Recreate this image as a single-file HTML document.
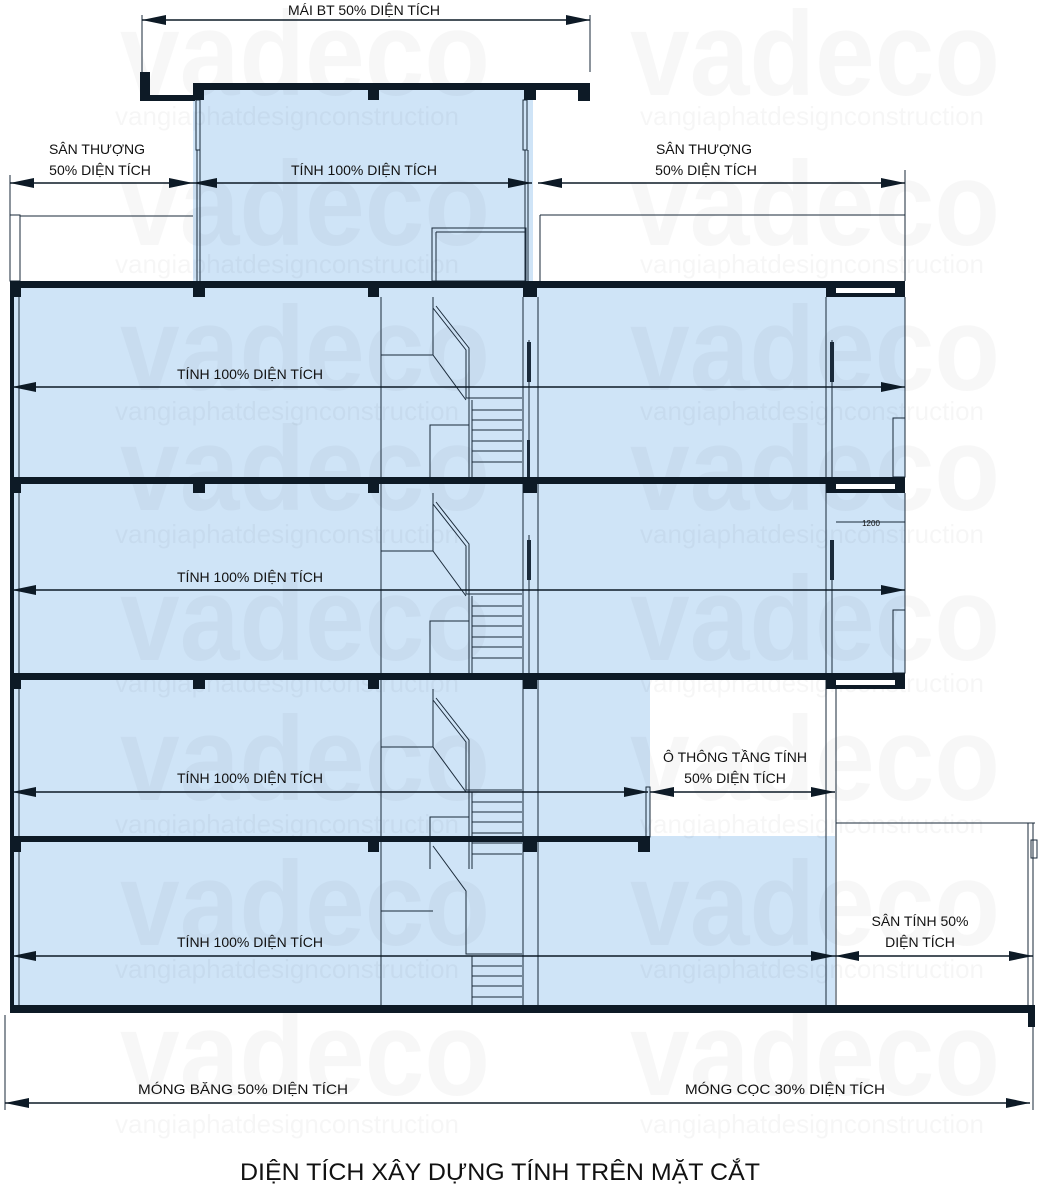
<!DOCTYPE html>
<html><head><meta charset="utf-8"><style>
html,body{margin:0;padding:0;background:#fff;}
svg{display:block;}
text{font-family:"Liberation Sans",sans-serif;fill:#111;}
.wm{font-size:120px;font-weight:bold;fill:#000;fill-opacity:0.03;}
.wm2{font-size:26px;fill:#000;fill-opacity:0.035;}
.l{font-size:14px;}
</style></head><body>
<svg width="1040" height="1200" viewBox="0 0 1040 1200" xmlns="http://www.w3.org/2000/svg">
<defs>
<marker id="a" viewBox="0 0 24 10" refX="24" refY="5" markerWidth="24" markerHeight="10" markerUnits="userSpaceOnUse" orient="auto-start-reverse"><path d="M0,0 L24,5 L0,10 z" fill="#0d1a26"/></marker>
</defs>
<g fill="#cfe4f7">
<rect x="193" y="90" width="340" height="195"/>
<rect x="12" y="288" width="893" height="385"/>
<rect x="12" y="680" width="638" height="160"/>
<rect x="12" y="836" width="823" height="172"/>
</g>
<g>
<text class="wm" x="120" y="95" textLength="370" lengthAdjust="spacingAndGlyphs">vadeco</text><text class="wm" x="630" y="95" textLength="370" lengthAdjust="spacingAndGlyphs">vadeco</text>
<text class="wm2" x="115" y="125">vangiaphatdesignconstruction</text><text class="wm2" x="640" y="125">vangiaphatdesignconstruction</text>
<text class="wm" x="120" y="245" textLength="370" lengthAdjust="spacingAndGlyphs">vadeco</text><text class="wm" x="630" y="245" textLength="370" lengthAdjust="spacingAndGlyphs">vadeco</text>
<text class="wm2" x="115" y="273">vangiaphatdesignconstruction</text><text class="wm2" x="640" y="273">vangiaphatdesignconstruction</text>
<text class="wm" x="120" y="390" textLength="370" lengthAdjust="spacingAndGlyphs">vadeco</text><text class="wm" x="630" y="390" textLength="370" lengthAdjust="spacingAndGlyphs">vadeco</text>
<text class="wm2" x="115" y="420">vangiaphatdesignconstruction</text><text class="wm2" x="640" y="420">vangiaphatdesignconstruction</text>
<text class="wm" x="120" y="510" textLength="370" lengthAdjust="spacingAndGlyphs">vadeco</text><text class="wm" x="630" y="510" textLength="370" lengthAdjust="spacingAndGlyphs">vadeco</text>
<text class="wm2" x="115" y="543">vangiaphatdesignconstruction</text><text class="wm2" x="640" y="543">vangiaphatdesignconstruction</text>
<text class="wm" x="120" y="660" textLength="370" lengthAdjust="spacingAndGlyphs">vadeco</text><text class="wm" x="630" y="660" textLength="370" lengthAdjust="spacingAndGlyphs">vadeco</text>
<text class="wm2" x="115" y="692">vangiaphatdesignconstruction</text><text class="wm2" x="640" y="692">vangiaphatdesignconstruction</text>
<text class="wm" x="120" y="800" textLength="370" lengthAdjust="spacingAndGlyphs">vadeco</text><text class="wm" x="630" y="800" textLength="370" lengthAdjust="spacingAndGlyphs">vadeco</text>
<text class="wm2" x="115" y="833">vangiaphatdesignconstruction</text><text class="wm2" x="640" y="833">vangiaphatdesignconstruction</text>
<text class="wm" x="120" y="945" textLength="370" lengthAdjust="spacingAndGlyphs">vadeco</text><text class="wm" x="630" y="945" textLength="370" lengthAdjust="spacingAndGlyphs">vadeco</text>
<text class="wm2" x="115" y="978">vangiaphatdesignconstruction</text><text class="wm2" x="640" y="978">vangiaphatdesignconstruction</text>
<text class="wm" x="120" y="1095" textLength="370" lengthAdjust="spacingAndGlyphs">vadeco</text><text class="wm" x="630" y="1095" textLength="370" lengthAdjust="spacingAndGlyphs">vadeco</text>
<text class="wm2" x="115" y="1133">vangiaphatdesignconstruction</text><text class="wm2" x="640" y="1133">vangiaphatdesignconstruction</text>
</g>
<g stroke="#1a2a3a" stroke-width="1" fill="none">
<rect x="10" y="215" width="10" height="66"/>
<line x1="12" y1="288" x2="12" y2="1005"/><line x1="19" y1="297" x2="19" y2="1005"/>
<line x1="20" y1="216" x2="193" y2="216"/>
<line x1="905" y1="170" x2="905" y2="281"/>
<line x1="540" y1="215" x2="905" y2="215"/>
<line x1="540" y1="215" x2="540" y2="281"/>
<rect x="196" y="100" width="4" height="50"/><rect x="523" y="100" width="4" height="50"/>
<line x1="197" y1="150" x2="197" y2="281"/><line x1="200" y1="150" x2="200" y2="281"/>
<line x1="525" y1="150" x2="525" y2="281"/><line x1="528" y1="150" x2="528" y2="281"/>
<rect x="432" y="228" width="94" height="53"/>
<line x1="436" y1="232" x2="436" y2="281"/><line x1="436" y1="232" x2="526" y2="232"/>
<line x1="381" y1="297" x2="381" y2="1005"/>
<line x1="523" y1="297" x2="523" y2="1005"/><line x1="538" y1="297" x2="538" y2="1005"/>
<line x1="826" y1="297" x2="826" y2="1005"/><line x1="836" y1="680" x2="836" y2="1005"/>
<g id="st">
<line x1="433" y1="297" x2="433" y2="355"/>
<line x1="381" y1="355" x2="433" y2="355"/>
<path d="M433,308 L466,350 L466,398 L522,398"/>
<path d="M436,306 L469,348 L469,477"/>
<path d="M433,355 L466,400"/>
<line x1="472" y1="400" x2="472" y2="477"/>
<path d="M430,477 L430,425 L469,425"/>
<line x1="472" y1="410" x2="522" y2="410"/><line x1="472" y1="420" x2="522" y2="420"/><line x1="472" y1="430" x2="522" y2="430"/><line x1="472" y1="441" x2="522" y2="441"/><line x1="472" y1="451" x2="522" y2="451"/><line x1="472" y1="462" x2="522" y2="462"/>
</g>
<use href="#st" y="196"/>
<use href="#st" y="392"/>
<g transform="translate(0,556)">
<line x1="381" y1="355" x2="433" y2="355"/>
<path d="M433,290 L466,335 L466,398 L522,398"/>
<line x1="472" y1="400" x2="472" y2="450"/>
<line x1="472" y1="410" x2="522" y2="410"/><line x1="472" y1="420" x2="522" y2="420"/><line x1="472" y1="430" x2="522" y2="430"/><line x1="472" y1="441" x2="522" y2="441"/>
</g>
<line x1="529" y1="340" x2="529" y2="477"/><line x1="529" y1="535" x2="529" y2="673"/>
<line x1="832" y1="340" x2="832" y2="477"/><line x1="832" y1="540" x2="832" y2="673"/>
<line x1="905" y1="297" x2="905" y2="418"/><rect x="893" y="418" width="12" height="59"/>
<line x1="905" y1="493" x2="905" y2="610"/><rect x="893" y="610" width="12" height="63"/>
<line x1="836" y1="522" x2="905" y2="522"/>
<rect x="646" y="787" width="4" height="50"/>
<line x1="836" y1="823" x2="1035" y2="823"/>
<line x1="1028" y1="823" x2="1028" y2="1005"/><line x1="1033" y1="823" x2="1033" y2="1005"/>
<rect x="1031" y="840" width="6" height="18"/>
<line x1="1033" y1="1012" x2="1033" y2="1110"/>
<line x1="142" y1="15" x2="142" y2="72"/><line x1="590" y1="15" x2="590" y2="72"/>
<line x1="10" y1="175" x2="10" y2="215"/>
<line x1="5" y1="1015" x2="5" y2="1110"/>
</g>
<g fill="#1a2a3a">
<rect x="527" y="342" width="4" height="40"/><rect x="527" y="440" width="3" height="37"/>
<rect x="830" y="342" width="4" height="40"/><rect x="830" y="540" width="4" height="40"/>
<rect x="527" y="540" width="4" height="40"/>
</g>
<g fill="#0d1a26">
<rect x="140" y="72" width="10" height="28"/><rect x="140" y="95" width="55" height="6"/>
<rect x="193" y="83" width="342" height="7"/>
<rect x="193" y="83" width="11" height="17"/><rect x="368" y="83" width="11" height="17"/><rect x="524" y="83" width="12" height="17"/>
<rect x="535" y="83" width="55" height="7"/><rect x="578" y="90" width="12" height="11"/>
<rect x="10" y="281" width="895" height="7"/>
<rect x="10" y="477" width="895" height="7"/>
<rect x="10" y="673" width="895" height="7"/>
<rect x="10" y="836" width="640" height="6"/>
<rect x="10" y="1005" width="1025" height="8"/>
<rect x="1028" y="1005" width="7" height="22"/>
<rect x="10" y="281" width="4" height="732"/>
</g>
<g fill="#0d1a26">
<rect x="10" y="281" width="11" height="16"/><rect x="193" y="281" width="12" height="16"/><rect x="368" y="281" width="11" height="16"/><rect x="523" y="281" width="14" height="16"/><rect x="826" y="281" width="79" height="16"/>
<rect x="10" y="477" width="11" height="16"/><rect x="193" y="477" width="12" height="16"/><rect x="368" y="477" width="11" height="16"/><rect x="523" y="477" width="14" height="16"/><rect x="826" y="477" width="79" height="16"/>
<rect x="10" y="673" width="11" height="16"/><rect x="193" y="673" width="12" height="16"/><rect x="368" y="673" width="11" height="16"/><rect x="523" y="673" width="14" height="16"/><rect x="826" y="673" width="79" height="16"/>
<rect x="10" y="836" width="11" height="16"/><rect x="368" y="836" width="11" height="16"/><rect x="523" y="836" width="14" height="16"/><rect x="638" y="836" width="12" height="16"/>
</g>
<g fill="#fff">
<rect x="836" y="288" width="59" height="5"/><rect x="836" y="484" width="59" height="5"/><rect x="836" y="680" width="59" height="5"/>
</g>
<g stroke="#0d1a26" stroke-width="1.6" marker-start="url(#a)" marker-end="url(#a)">
<line x1="142" y1="20" x2="590" y2="20"/>
<line x1="10" y1="183" x2="193" y2="183"/>
<line x1="193" y1="183" x2="532" y2="183"/>
<line x1="538" y1="183" x2="905" y2="183"/>
<line x1="12" y1="387" x2="905" y2="387"/>
<line x1="12" y1="590" x2="905" y2="590"/>
<line x1="12" y1="792" x2="648" y2="792"/>
<line x1="650" y1="792" x2="835" y2="792"/>
<line x1="12" y1="956" x2="835" y2="956"/>
<line x1="835" y1="956" x2="1033" y2="956"/>
<line x1="5" y1="1103" x2="1030" y2="1103"/>
</g>
<g class="l" text-anchor="middle">
<text x="364" y="15" class="l">MÁI BT 50% DIỆN TÍCH</text>
<text x="97" y="154" class="l">SÂN THƯỢNG</text>
<text x="100" y="175" class="l">50% DIỆN TÍCH</text>
<text x="364" y="175" class="l">TÍNH 100% DIỆN TÍCH</text>
<text x="704" y="154" class="l">SÂN THƯỢNG</text>
<text x="706" y="175" class="l">50% DIỆN TÍCH</text>
<text x="250" y="379" class="l">TÍNH 100% DIỆN TÍCH</text>
<text x="250" y="582" class="l">TÍNH 100% DIỆN TÍCH</text>
<text x="250" y="783" class="l">TÍNH 100% DIỆN TÍCH</text>
<text x="735" y="762" class="l">Ô THÔNG TẦNG TÍNH</text>
<text x="735" y="783" class="l">50% DIỆN TÍCH</text>
<text x="250" y="947" class="l">TÍNH 100% DIỆN TÍCH</text>
<text x="920" y="926" class="l">SÂN TÍNH 50%</text>
<text x="920" y="947" class="l">DIỆN TÍCH</text>
<text x="243" y="1094" class="l" textLength="210" lengthAdjust="spacingAndGlyphs">MÓNG BĂNG 50% DIỆN TÍCH</text>
<text x="785" y="1094" class="l" textLength="200" lengthAdjust="spacingAndGlyphs">MÓNG CỌC 30% DIỆN TÍCH</text>
<text x="871" y="526" style="font-size:8px">1200</text>
<text x="500" y="1180" style="font-size:24px" textLength="520" lengthAdjust="spacingAndGlyphs">DIỆN TÍCH XÂY DỰNG TÍNH TRÊN MẶT CẮT</text>
</g>
</svg>
</body></html>
